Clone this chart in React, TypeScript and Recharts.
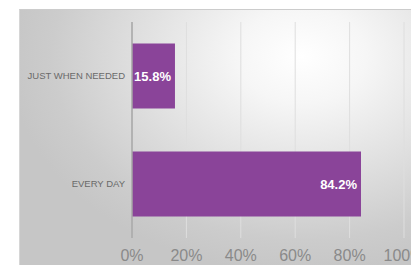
import React from 'react';
import {
  BarChart,
  Bar,
  XAxis,
  YAxis,
  CartesianGrid,
  LabelList,
} from 'recharts';

const categories = ['JUST WHEN NEEDED', 'EVERY DAY'];
const shares = [15.8, 84.2];
const xTicks = [0, 20, 40, 60, 80, 100];

const data = categories.map((name, i) => ({ name, value: shares[i] }));

const FONT = '"Liberation Sans", Arial, sans-serif';
const PURPLE = '#8a4499';

// plain text ticks, no wrapping
const XTick = ({ x, payload }: any) => (
  <text
    x={x}
    y={261}
    textAnchor="middle"
    fontSize={16}
    fill="#8a8a8a"
    fontFamily={FONT}
  >
    {`${payload.value}%`}
  </text>
);

const YTick = ({ y, payload }: any) => (
  <text
    x={125}
    y={y}
    dy="0.35em"
    textAnchor="end"
    fontSize={9.5}
    fill="#6a6a6a"
    fontFamily={FONT}
  >
    {payload.value}
  </text>
);

export default function App() {
  return (
    <div
      style={{
        position: 'fixed',
        left: 0,
        top: 0,
        width: 411,
        height: 265,
        overflow: 'hidden',
        background: '#ffffff',
        fontFamily: FONT,
      }}
    >
      {/* grey panel with soft highlight */}
      <div
        style={{
          position: 'absolute',
          left: 19,
          top: 9,
          width: 392,
          height: 256,
          boxSizing: 'border-box',
          borderTop: '1px solid #cccccc',
          borderLeft: '1px solid #d6d6d6',
          background:
            'radial-gradient(ellipse 75% 85% at 72% 18%, #ffffff 0%, #f6f6f6 22%, #e0e0e0 55%, #cccccc 85%, #c6c6c6 100%)',
        }}
      />
      <div style={{ position: 'absolute', left: 0, top: 0 }}>
        <BarChart
          width={440}
          height={265}
          data={data}
          layout="vertical"
          margin={{ top: 22, right: 36, left: 0, bottom: 0 }}
          barCategoryGap="20%"
        >
          <CartesianGrid horizontal={false} stroke="#dedede" />
          <XAxis
            type="number"
            domain={[0, 100]}
            ticks={xTicks}
            axisLine={false}
            tickLine={false}
            height={27}
            interval={0}
            tick={<XTick />}
          />
          <YAxis
            type="category"
            dataKey="name"
            width={132}
            axisLine={{ stroke: '#a4a4a4', strokeWidth: 1.5 }}
            tickLine={false}
            tick={<YTick />}
          />
          <Bar dataKey="value" fill={PURPLE} isAnimationActive={false}>
            <LabelList
              dataKey="value"
              position="insideRight"
              offset={4}
              formatter={(v: number) => `${v.toFixed(1)}%`}
              style={{ fill: '#ffffff', fontWeight: 'bold', fontSize: 13, fontFamily: FONT }}
            />
          </Bar>
        </BarChart>
      </div>
    </div>
  );
}
